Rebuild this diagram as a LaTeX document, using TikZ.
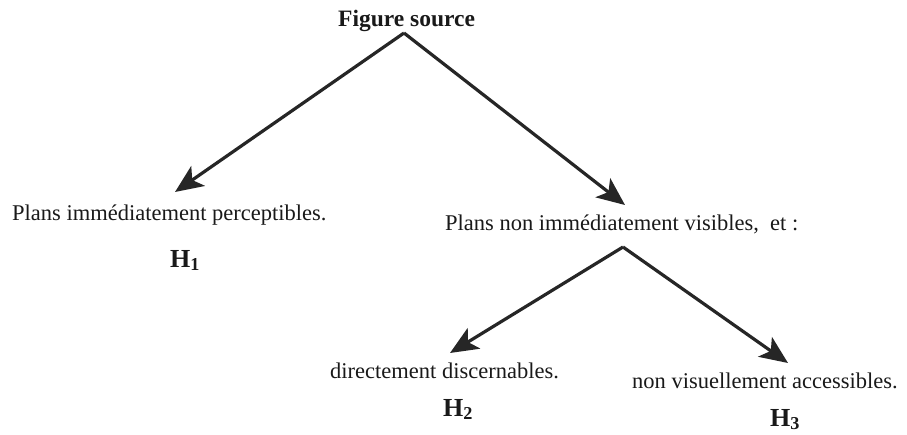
\documentclass[tikz,border=0pt]{standalone}
\usepackage{fontspec}
\setmainfont{Liberation Serif}
\usetikzlibrary{arrows.meta}
\begin{document}
\begin{tikzpicture}[x=1pt,y=-1pt,
  lbl/.style={anchor=base west,inner sep=0pt,font=\fontsize{22.5}{27}\selectfont,text=black!90},
  hyp/.style={anchor=base west,inner sep=0pt,font=\fontsize{26}{30}\selectfont\bfseries,text=black!90},
  arr/.style={line width=3.2pt,draw=black!85,-{Stealth[length=28pt,width=24pt,inset=7pt]}}]
\useasboundingbox (0,0) rectangle (907,434);
\node[lbl,font=\fontsize{23.5}{28}\selectfont\bfseries] (src) at (338,26) {Figure source};
\node[lbl] (p1) at (12,220) {Plans immédiatement perceptibles.};
\node[lbl] (p2) at (445,230) {Plans non immédiatement visibles,\ \ et :};
\node[lbl] (d1) at (330,378) {directement discernables.};
\node[lbl] (d2) at (632,388) {non visuellement accessibles.};
\node[hyp] (h1) at (170,267) {H$_{\mathbf{1}}$};
\node[hyp] (h2) at (443,416) {H$_{\mathbf{2}}$};
\node[hyp] (h3) at (770,426) {H$_{\mathbf{3}}$};
\coordinate (a1) at (404,33);
\coordinate (a2) at (623,247);
\coordinate (t1) at (175,192);
\coordinate (t2) at (625,205);
\coordinate (t3) at (450,353);
\coordinate (t4) at (788,363);
\draw[arr] (a1) -- (t1);
\draw[arr] (a1) -- (t2);
\draw[arr] (a2) -- (t3);
\draw[arr] (a2) -- (t4);
\end{tikzpicture}
\end{document}
